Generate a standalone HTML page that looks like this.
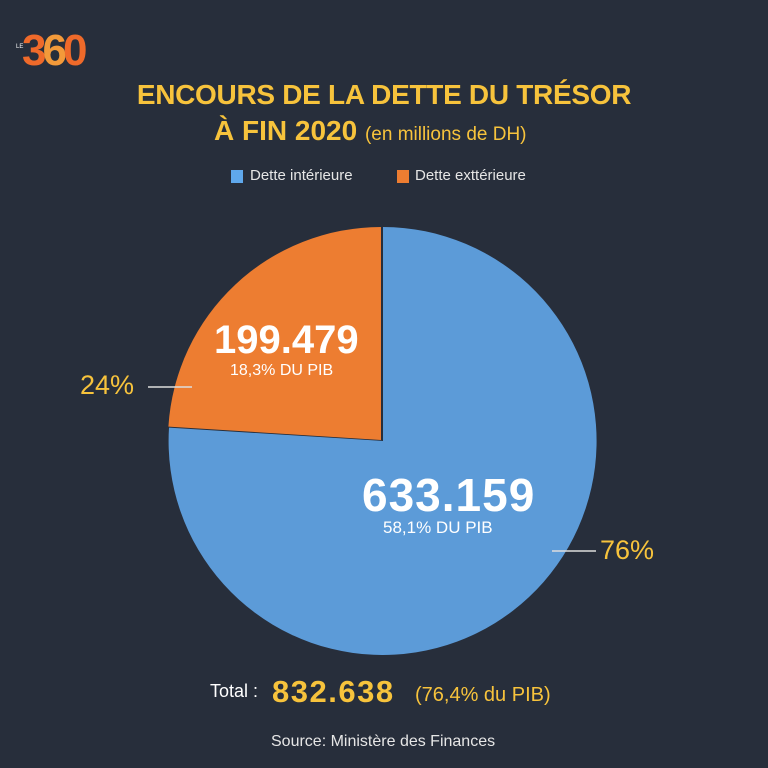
<!DOCTYPE html>
<html><head><meta charset="utf-8"><style>
body{margin:0;width:768px;height:768px;background:#272e3b;overflow:hidden;font-family:"Liberation Sans",sans-serif;position:relative}
.t{position:absolute;white-space:nowrap}
</style></head><body>
<svg width="768" height="768" style="position:absolute;left:0;top:0">
<path d="M383,441 L383,227 A214,214 0 1 1 169,427.6 Z" fill="#5c9bd8"/>
<path d="M381,440 L381,227 A213,213 0 0 0 168.4,426.6 Z" fill="#ed7d31"/>
<line x1="148" y1="387" x2="192" y2="387" stroke="#ddd" stroke-width="1.5"/>
<line x1="552" y1="551" x2="596" y2="551" stroke="#ddd" stroke-width="1.5"/>
<rect x="231" y="170" width="12" height="13" fill="#5fa8ec"/>
<rect x="397" y="170" width="12" height="13" fill="#ed7d31"/>
</svg>
<div class="t" style="left:16px;top:44px;font-size:6px;color:#fff">LE</div>
<div class="t" style="left:22px;top:26px;font-size:44px;font-weight:bold;color:#ef6a2a;letter-spacing:-4px">3<span style="color:#f39a3a">6</span>0</div>
<div class="t" style="left:0;width:768px;text-align:center;top:79px;font-size:28px;font-weight:bold;color:#f7c33c;letter-spacing:-0.3px">ENCOURS DE LA DETTE DU TRÉSOR</div>
<div class="t" style="left:214px;top:115px;font-size:28px;font-weight:bold;color:#f7c33c">À FIN 2020 <span style="font-size:19px;font-weight:normal">(en millions de DH)</span></div>
<div class="t" style="left:250px;top:167px;font-size:15px;color:#e6e6e6">Dette intérieure</div>
<div class="t" style="left:415px;top:167px;font-size:15px;color:#e6e6e6">Dette exttérieure</div>
<div class="t" style="left:214px;top:318px;font-size:40px;font-weight:bold;color:#fff">199.479</div>
<div class="t" style="left:230px;top:362px;font-size:16px;color:#fff">18,3% DU PIB</div>
<div class="t" style="left:80px;top:370px;font-size:27px;color:#f7c33c">24%</div>
<div class="t" style="left:362px;top:468px;font-size:46px;font-weight:bold;color:#fff;letter-spacing:1px">633.159</div>
<div class="t" style="left:383px;top:518px;font-size:17px;color:#fff">58,1% DU PIB</div>
<div class="t" style="left:600px;top:535px;font-size:27px;color:#f7c33c">76%</div>
<div class="t" style="left:210px;top:681px;font-size:18px;color:#fff">Total :</div>
<div class="t" style="left:272px;top:674px;font-size:31px;font-weight:bold;color:#f7c33c;letter-spacing:1.5px">832.638</div>
<div class="t" style="left:415px;top:684px;font-size:20px;color:#f7c33c">(76,4% du PIB)</div>
<div class="t" style="left:271px;top:733px;font-size:16px;color:#e6e6e6">Source: Ministère des Finances</div>
</body></html>
